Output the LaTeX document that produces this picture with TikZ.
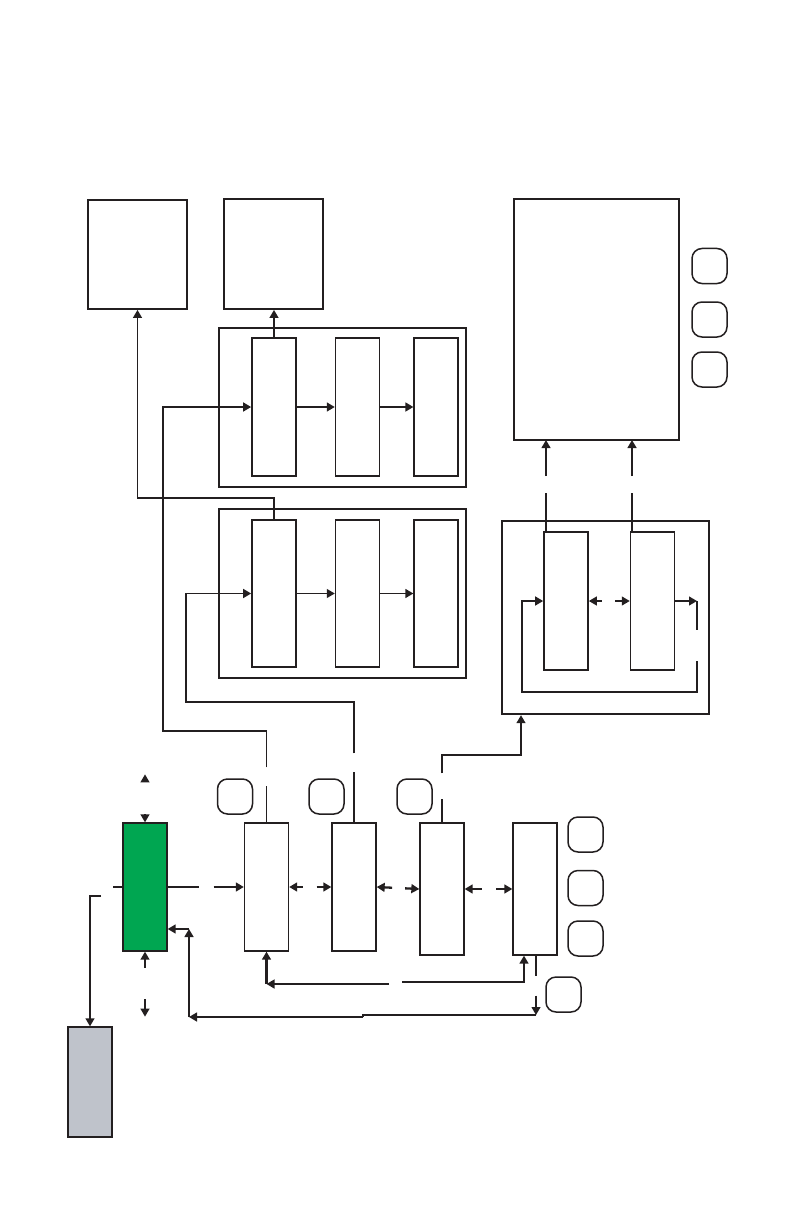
\documentclass[tikz,border=0pt]{standalone}
\usepackage{tikz}
\usetikzlibrary{positioning, arrows.meta}

\definecolor{leafgreen}{HTML}{00A651}
\definecolor{slategrey}{HTML}{BFC3CB}
\definecolor{ink}{HTML}{231F20}

\tikzset{
  block/.style={draw=ink, line width=0.9pt, minimum width=49.5pt, minimum height=54.5pt, inner sep=0pt},
  frame/.style={draw=ink, line width=1.15pt, inner sep=0pt},
  cell/.style={draw=ink, line width=0.8pt, minimum width=22pt, inner sep=0pt},
  tag/.style={draw=ink, line width=0.75pt, rounded corners=5pt, minimum size=17.5pt, inner sep=0pt},
  wire/.style={draw=ink, line width=0.85pt},
}

\begin{document}
\begin{tikzpicture}[x=0.5pt, y=-0.5pt, >={Stealth[inset=0pt, length=4pt, width=4.4pt]}, node distance=19pt]
    \useasboundingbox (0,0) rectangle (793,1225);

    % top row
    \node[block] (TL) at (137.5,254.5) {};
    \node[block, minimum height=55pt] (TM) at (273.5,254) {};
    \node[block, minimum width=82.5pt, minimum height=120.5pt] (TR) at (596.5,319.5) {};
    \node[tag] (tr1) at (709.5,266) {};
    \node[tag] (tr2) at (709.5,319.5) {};
    \node[tag] (tr3) at (709.5,369.5) {};

    % upper stage
    \node[frame, minimum width=123.5pt, minimum height=79.5pt] (UF) at (342.5,407.5) {};
    \node[cell, minimum height=69pt] (u1) at (274,407) {};
    \node[cell, minimum height=69pt, right=of u1] (u2) {};
    \node[cell, minimum height=69pt, right=16.5pt of u2] (u3) {};

    % lower stage
    \node[frame, minimum width=123.5pt, minimum height=84.5pt] (LF) at (342.5,593.5) {};
    \node[cell, minimum height=73.5pt] (l1) at (274,593.5) {};
    \node[cell, minimum height=73.5pt, right=of l1] (l2) {};
    \node[cell, minimum height=73.5pt, right=16.5pt of l2] (l3) {};

    % right stage
    \node[frame, minimum width=103.5pt, minimum height=96.5pt] (RF) at (605.5,617.5) {};
    \node[cell, minimum height=69pt] (r1) at (566,601) {};
    \node[cell, minimum height=69pt, right=20.5pt of r1] (r2) {};

    % bottom row
    \node[cell, line width=0.65pt, fill=leafgreen, minimum height=64pt] (g) at (145,887) {};
    \node[cell, line width=0.65pt, minimum height=64pt] (bA) at (266.5,887) {};
    \node[cell, line width=0.65pt, minimum height=64pt] (bB) at (354,887) {};
    \node[cell, line width=0.65pt, minimum height=66pt] (bC) at (442,889) {};
    \node[cell, line width=0.65pt, minimum height=66pt] (bD) at (535,889) {};
    \node[cell, line width=0.65pt, fill=slategrey, minimum height=55pt] (gr) at (90,1082) {};
    \node[tag] (ta) at (235,796.5) {};
    \node[tag] (tb) at (326.5,796.5) {};
    \node[tag] (tc) at (414.5,796.5) {};
    \node[tag] (td1) at (585.5,834.5) {};
    \node[tag] (td2) at (585.5,888) {};
    \node[tag] (td3) at (585.5,938.5) {};
    \node[tag] (te) at (563.5,994.5) {};

    % upper stage wiring
    \draw[wire, ->] (u1.north) -- (u1.north |- TM.south);
    \draw[wire, ->, line width=1.2pt] (u1) -- (u2);
    \draw[wire, ->, line width=1.2pt] (u2) -- (u3);
    \coordinate (c1) at (163,731);
    \draw[wire, ->, line width=0.95pt, dash pattern=on 18pt off 9.5pt on 1000pt] (bA.north) |- (c1) |- (u1.west);

    % lower stage wiring
    \draw[wire, ->] (l1.north) -- ++(0,-21) -| (TL.south);
    \draw[wire, ->] (l1) -- (l2);
    \draw[wire, ->] (l2) -- (l3);
    \coordinate (c2) at (186,702);
    \draw[wire, ->, line width=0.95pt, dash pattern=on 25pt off 9.5pt on 1000pt] (bB.north) |- (c2) |- (l1.west);

    % right stage wiring
    \coordinate (c3) at (521,755);
    \draw[wire, ->, dash pattern=on 11.5pt off 13pt on 1000pt] (bC.north) |- (c3) -- (c3 |- RF.south);
    \coordinate (t1) at (546,440);
    \coordinate (t2) at (632,440);
    \draw[wire, ->, dash pattern=on 19pt off 8.5pt on 100pt] (r1.north -| t1) -- (t1);
    \draw[wire, ->, line width=1.15pt, dash pattern=on 19pt off 8.5pt on 100pt] (r2.north -| t2) -- (t2);
    \draw[wire, <->, dash pattern=on 3pt off 6.5pt on 20pt] (r1.east) -- (r2.west);
    \coordinate (c5) at (697,601);
    \coordinate (c6) at (522,692);
    \draw[wire, ->] (r2.east) -- (c5);
    \draw[wire, ->, line width=1.05pt, dash pattern=on 14.5pt off 15.5pt on 1000pt] (c5) |- (c6) |- (r1.west);

    % bottom row wiring
    \draw[wire, <->, dash pattern=on 0.5pt off 100pt] (g.north) -- ++(0,-48);
    \draw[wire, <->, dash pattern=on 4.5pt off 15.5pt on 50pt] (g.south) -- ++(0,65);
    \draw[wire, ->, line width=1.25pt, dash pattern=on 15.5pt off 7.5pt on 100pt] (g.east) -- (bA.west);
    \draw[wire, line width=1.25pt] (g.west) -- ++(-9,0);
    \coordinate (c4) at (101,896);
    \draw[wire, ->] (c4) -| (gr.north);
    \draw[wire, <->, line width=1.15pt, dash pattern=on 3pt off 7pt on 50pt] (bA.east) -- (bB.west);
    \draw[wire, <->, line width=1.15pt, dash pattern=on 4pt off 6.5pt on 50pt] (bB.east) -- (bC.west);
    \draw[wire, <->, line width=1.15pt, dash pattern=on 5pt off 7pt on 50pt] (bC.east) -- (bD.west);

    % return lines
    \coordinate (f1) at (402,982);
    \coordinate (f2) at (524,982);
    \draw[wire, ->, line width=1.15pt] (f1) -- (f2) -- (f2 |- bD.south);
    \coordinate (f3) at (389,984);
    \draw[wire, ->, line width=1.05pt] (f3) -- (bA.south |- f3);
    \draw[wire, ->, line width=1.05pt] (bA.south |- f3) -- (bA.south);
    \coordinate (f4) at (536,1015);
    \coordinate (f5) at (363,1017);
    \coordinate (f6) at (189,1017);
    \coordinate (f7) at (189,929);
    \draw[wire, ->, dash pattern=on 10pt off 10pt on 50pt] (bD.south -| f4) -- (f4);
    \draw[wire, line width=1.15pt] (f4) -| (f5);
    \draw[wire, ->, line width=1.05pt] (f5) -- (f6);
    \draw[wire, ->, line width=1.05pt] (f6) -- (f7);
    \draw[wire, ->, line width=1.05pt] (f7) -- (f7 -| g.east);
\end{tikzpicture}
\end{document}
